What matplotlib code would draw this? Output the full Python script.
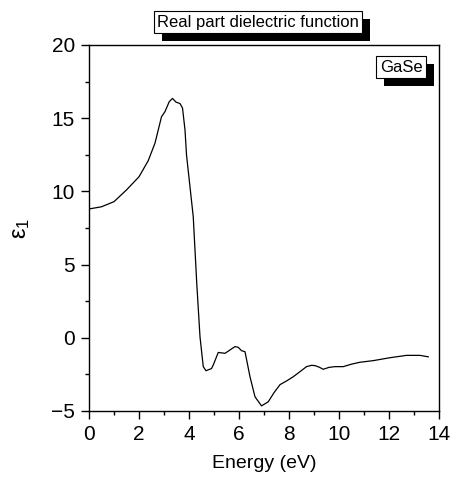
import numpy as np
import matplotlib.pyplot as plt
import matplotlib.patheffects as pe
from matplotlib.ticker import MultipleLocator

plt.rcParams['font.family'] = ['Liberation Sans', 'DejaVu Sans']
plt.rcParams['mathtext.fontset'] = 'custom'
plt.rcParams['mathtext.rm'] = 'Liberation Sans'
plt.rcParams['mathtext.it'] = 'Liberation Sans'

# =========================
# Data
# =========================
energy = [0.0, 0.5, 1.0, 1.5, 2.0, 2.37, 2.64, 2.9, 3.04, 3.21, 3.34, 3.48,
          3.64, 3.74, 3.84, 3.9, 4.17, 4.31, 4.44, 4.57, 4.68, 4.9, 4.97,
          5.17, 5.44, 5.84, 5.97, 6.1, 6.24, 6.44, 6.64, 6.9, 7.17, 7.4, 7.64,
          7.9, 8.17, 8.45, 8.7, 8.9, 9.04, 9.2, 9.37, 9.6, 9.84, 10.17, 10.5,
          10.84, 11.37, 12.04, 12.7, 13.24, 13.57]
eps1 = [8.8, 8.95, 9.3, 10.1, 11.0, 12.1, 13.3, 15.1, 15.45, 16.13, 16.35,
        16.1, 16.0, 15.7, 14.2, 12.5, 8.27, 3.72, 0.07, -1.97, -2.25, -2.1,
        -1.86, -1.0, -1.06, -0.6, -0.65, -0.88, -0.95, -2.66, -4.03, -4.65,
        -4.37, -3.75, -3.2, -2.95, -2.66, -2.3, -1.97, -1.88, -1.9, -2.0,
        -2.15, -2.02, -1.97, -1.97, -1.8, -1.67, -1.56, -1.36, -1.2, -1.2, -1.3]

title_text = "Real part dielectric function"
sample_label = "GaSe"

# =========================
# Plot
# =========================
fig = plt.figure(figsize=(4.51, 4.87), dpi=100)
ax = fig.add_axes([89 / 451, 76 / 487, 350 / 451, 366 / 487])

ax.plot(energy, eps1, color="black", linewidth=0.9, solid_joinstyle="round")

ax.set_xlim(0, 14)
ax.set_ylim(-5, 20)
ax.xaxis.set_major_locator(MultipleLocator(2))
ax.xaxis.set_minor_locator(MultipleLocator(1))
ax.yaxis.set_major_locator(MultipleLocator(5))
ax.yaxis.set_minor_locator(MultipleLocator(2.5))
ax.tick_params(which="major", direction="out", length=6, width=1, labelsize=15, pad=4)
ax.tick_params(which="minor", direction="out", length=3, width=1)
for s in ax.spines.values():
    s.set_linewidth(1)

ax.set_xlabel("Energy (eV)", fontsize=14, labelpad=8)
ax.set_ylabel(r"$\mathregular{\varepsilon_1}$", fontsize=17, labelpad=14)


def shadow_box(x, y, text, size):
    # white box with a solid black drop shadow (down-right)
    t = fig.text(x, y, text, fontsize=size, color="black", transform=fig.transFigure,
                 ha="center", va="center",
                 bbox=dict(boxstyle="square,pad=0.2", fc="white", ec="black", lw=0.8))
    t.get_bbox_patch().set_path_effects([
        pe.SimplePatchShadow(offset=(5.8, -5.8), shadow_rgbFace="black", alpha=1.0),
        pe.Normal(),
    ])
    return t


shadow_box(258 / 451, 1 - 22 / 487, title_text, 12)
shadow_box(401 / 451, 1 - 67 / 487, sample_label, 12)

fig.savefig("out.png", dpi=100)
